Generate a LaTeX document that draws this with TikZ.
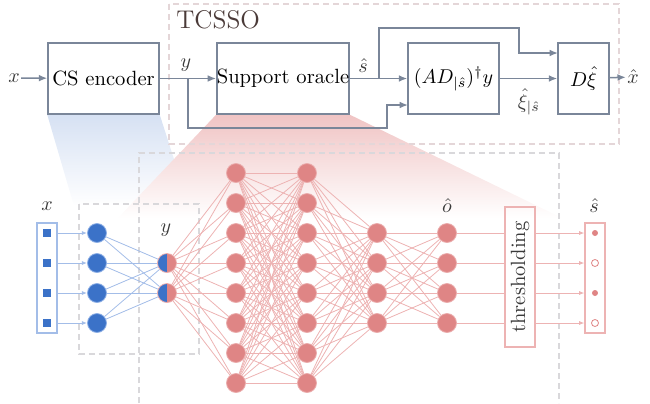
\documentclass[tikz,border=0pt]{standalone}
\usetikzlibrary{arrows.meta}
\definecolor{slate}{HTML}{7A8699}
\definecolor{txt}{HTML}{3A3A3A}
\definecolor{nred}{HTML}{DF8585}
\definecolor{nredb}{HTML}{EBADAD}
\definecolor{lred}{HTML}{EDB3B3}
\definecolor{nblue}{HTML}{3B72C8}
\definecolor{nblueb}{HTML}{8EB0E6}
\definecolor{lblue}{HTML}{A3BDE8}
\definecolor{dashc}{HTML}{D9D8DB}
\definecolor{dashp}{HTML}{E4D6D8}
\definecolor{tcsso}{HTML}{4A3A38}
\definecolor{wblue}{HTML}{D6E1F3}
\definecolor{wred}{HTML}{F0C4C4}
\pgfdeclarelayer{bg}
\pgfsetlayers{bg,main}
\tikzset{
  blk/.style={draw=slate, line width=0.75pt, inner sep=0pt},
  arr/.style={draw=slate, line width=0.75pt, -{Latex[length=4.2pt,width=3.4pt]}},
  lab/.style={text=txt, inner sep=0.5pt},
  dbox/.style={draw=dashc, line width=0.7pt, dash pattern=on 3pt off 2pt},
  rneu/.style={circle, fill=nred, draw=nredb, line width=0.4pt, minimum size=9.5pt, inner sep=0pt},
  bneu/.style={circle, fill=nblue, draw=nblueb, line width=0.4pt, minimum size=9.5pt, inner sep=0pt},
  rl/.style={draw=lred, line width=0.4pt},
  bl/.style={draw=lblue, line width=0.4pt},
  barr/.style={draw=lblue, line width=0.45pt, -{Latex[length=2.6pt,width=2pt]}},
  rarr/.style={draw=lred, line width=0.45pt, -{Latex[length=2.6pt,width=2pt]}},
}
\begin{document}
\begin{tikzpicture}[x=0.5pt,y=-0.5pt,font=\fontsize{10.3}{12}\selectfont]
\useasboundingbox (0,0) rectangle (650,403);
% dashed frames
\draw[dbox, draw=dashp] (169,4) rectangle (619,144);
\node[anchor=base west, text=tcsso, inner sep=0pt, font=\fontsize{12.8}{15}\selectfont] (tl) at (176,28) {TCSSO};
\draw[dbox] (139,403) -- (139,153) -- (559,153) -- (559,403);
\draw[dbox] (79,204) rectangle (199,354);
% top row
\node[lab] (xin) at (14,78) {$x$};
\node[blk, minimum width=55.5pt, minimum height=35.5pt] (enc) at (103.5,78.5) {CS encoder};
\node[blk, minimum width=64pt, minimum height=35.5pt] (orc) at (283,78.5) {Support oracle};
\node[blk, minimum width=45.5pt, minimum height=35.5pt] (ad) at (453.5,78.5) {$(AD_{|\hat{s}})^{\dagger}y$};
\node[blk, minimum width=25.5pt, minimum height=35.5pt] (dd) at (583.5,78.5) {$D\hat{\xi}$};
\node[lab] (xout) at (633,77) {$\hat{x}$};
\node[lab] (ylab) at (186,65) {$y$};
\node[lab] (slab) at (363,66) {$\hat{s}$};
\node[lab] (xilab) at (529,102) {$\hat{\xi}_{|\hat{s}}$};
\coordinate (yb) at (188,78.5);
\coordinate (yc) at (387,128);
\coordinate (yin) at (408,105);
\coordinate (sb) at (379,78.5);
\coordinate (sc) at (519,28);
\coordinate (sin) at (558,53);
\draw[arr] (xin) -- (enc);
\draw[arr] (enc) -- (orc);
\draw[arr] (yb) |- (yc) |- (yin);
\draw[arr] (orc) -- (ad);
\draw[arr] (sb) |- (sc) |- (sin);
\draw[arr] (ad) -- (dd);
\draw[arr] (dd) -- (xout);
% bottom: input
\node[lab] (xl) at (47,206) {$x$};
\node[draw=lblue, line width=0.6pt, minimum width=10pt, minimum height=55pt, inner sep=0pt] (xcol) at (47,278) {};
\foreach \i in {1,...,4} {
  \node[fill=nblue, minimum size=4pt, inner sep=0pt] (xs\i) at (47,203+30*\i) {};
  \node[bneu] (b\i) at (97,203+30*\i) {};
  \draw[barr] (xs\i -| xcol.east) -- (b\i);
}
\node[lab] (yl) at (166,230) {$y$};
\foreach \i in {1,2} {
  \node[circle, draw=nredb, line width=0.4pt, minimum size=9.5pt, inner sep=0pt,
    path picture={\fill[nblue] (path picture bounding box.south west) rectangle (path picture bounding box.north);
                  \fill[nred] (path picture bounding box.south) rectangle (path picture bounding box.north east);}]
    (y\i) at (167,233+30*\i) {};
}
\foreach \i in {1,...,4} \foreach \j in {1,2} \draw[bl] (b\i) -- (y\j);
% red network
\foreach \i in {1,...,8} {
  \node[rneu] (p\i) at (236,143+30*\i) {};
  \node[rneu] (q\i) at (307,143+30*\i) {};
}
\foreach \i in {1,...,4} {
  \node[rneu] (r\i) at (377,203+30*\i) {};
  \node[rneu] (o\i) at (447,203+30*\i) {};
}
\node[lab] (ol) at (447,206) {$\hat{o}$};
\foreach \i in {1,2} \foreach \j in {1,...,8} \draw[rl] (y\i) -- (p\j);
\foreach \i in {1,...,8} \foreach \j in {1,...,8} \draw[rl] (p\i) -- (q\j);
\foreach \i in {1,...,8} \foreach \j in {1,...,4} \draw[rl] (q\i) -- (r\j);
\foreach \i in {1,...,4} \foreach \j in {1,...,4} \draw[rl] (r\i) -- (o\j);
% thresholding and output
\node[draw=lred, line width=0.6pt, minimum width=15pt, minimum height=70pt, inner sep=0pt] (th) at (520,277) {};
\node[rotate=90, text=txt, inner sep=0pt] (tht) at (th.center) {thresholding};
\node[draw=lred, line width=0.6pt, minimum width=10pt, minimum height=55pt, inner sep=0pt] (sh) at (595,278) {};
\node[lab] (sl) at (594,206) {$\hat{s}$};
\node[circle, fill=nred, minimum size=3pt, inner sep=0pt] (d1) at (595,233) {};
\node[circle, draw=nred, fill=white, line width=0.4pt, minimum size=3.5pt, inner sep=0pt] (d2) at (595,263) {};
\node[circle, fill=nred, minimum size=3pt, inner sep=0pt] (d3) at (595,293) {};
\node[circle, draw=nred, fill=white, line width=0.4pt, minimum size=3.5pt, inner sep=0pt] (d4) at (595,323) {};
\foreach \i in {1,...,4} {
  \draw[rl] (o\i) -- (o\i -| th.west);
  \draw[rarr] (o\i -| th.east) -- (o\i -| sh.west);
}
% wedges
\begin{pgfonlayer}{bg}
\shade[top color=wblue, bottom color=white] (enc.south west) -- (enc.south east) -- (189,206) -- (74,206) -- cycle;
\shade[top color=wred, bottom color=white] (orc.south west) -- (orc.south east) -- (562,218) -- (118,218) -- cycle;
\end{pgfonlayer}
\end{tikzpicture}
\end{document}
